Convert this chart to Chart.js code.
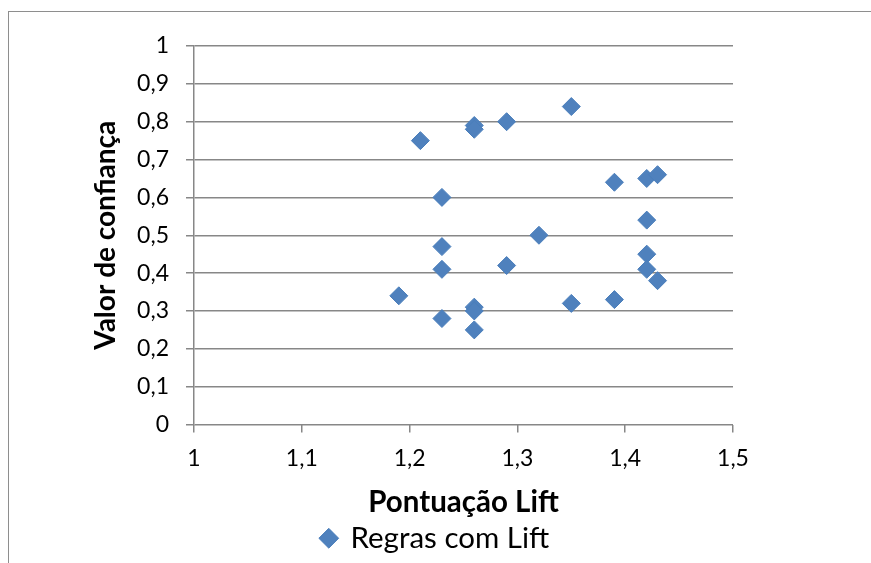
<!DOCTYPE html>
<html>
<head>
<meta charset="utf-8">
<script src="https://cdn.jsdelivr.net/npm/chart.js@4"></script>
<style>
    html, body { margin: 0; padding: 0; background: #fff; overflow: hidden; }
    #wrap { position: relative; width: 871px; height: 563px; }
    #frame { position: absolute; left: 8px; top: 11px; width: 900px; height: 600px;
        border-left: 1.5px solid #8e8e8e; border-top: 1.5px solid #8e8e8e; }
    #chart { position: absolute; left: 0; top: 0; }
</style>
</head>
<body>
<div id="wrap">
    <div id="frame"></div>
    <canvas id="chart" width="871" height="563"></canvas>
</div>
<script>
    const seriesName = 'Regras com Lift';
    const xTitle = 'Pontuação Lift';
    const yTitle = 'Valor de confiança';

    // pontuação lift (x) e confiança (y) de cada regra
    const liftValues = [1.19, 1.21, 1.23, 1.23, 1.23, 1.23, 1.26, 1.26, 1.26, 1.26, 1.26, 1.29,
        1.29, 1.32, 1.35, 1.35, 1.39, 1.39, 1.42, 1.43, 1.42, 1.42, 1.42, 1.43];
    const confValues = [0.34, 0.75, 0.60, 0.47, 0.41, 0.28, 0.79, 0.78, 0.31, 0.30, 0.25, 0.80,
        0.42, 0.50, 0.84, 0.32, 0.64, 0.33, 0.65, 0.66, 0.54, 0.45, 0.41, 0.38];

    const xMin = 1, xMax = 1.5, xStep = 0.1;
    const yMin = 0, yMax = 1, yStep = 0.1;

    const font = 'Lato';
    const gridColor = '#878787';

    let points = [];
    for (let i = 0; i < liftValues.length; i++) {
        points.push({x: liftValues[i], y: confValues[i]});
    }

    const comma = v => String(Math.round(v * 10) / 10).replace('.', ',');

    let ctx = document.getElementById('chart').getContext('2d');
    let myChart = new Chart(ctx, {
        type: 'scatter',
        data: {
            datasets: [{
                label: seriesName,
                data: points,
                pointStyle: 'rectRot',
                pointRadius: 9,
                pointHoverRadius: 9,
                backgroundColor: '#4F81BD',
                borderColor: '#4A7EBB',
                borderWidth: 1,
            }]
        },
        options: {
            responsive: false,
            animation: false,
            layout: {padding: {left: 0, top: 46, right: 0, bottom: 0}},
            plugins: {
                tooltip: {enabled: false},
                legend: {
                    position: 'bottom',
                    labels: {
                        usePointStyle: true,
                        boxWidth: 14,
                        boxHeight: 14,
                        padding: 3,
                        color: '#000',
                        font: {family: font, size: 29.5},
                    }
                }
            },
            scales: {
                x: {
                    type: 'linear',
                    min: xMin,
                    max: xMax,
                    ticks: {
                        stepSize: xStep,
                        callback: comma,
                        color: '#000',
                        padding: 12,
                        font: {family: font, size: 23},
                    },
                    grid: {drawOnChartArea: false, drawTicks: true, tickLength: 8, color: gridColor, lineWidth: 1.5},
                    border: {display: false},
                    title: {
                        display: true,
                        text: xTitle,
                        color: '#000',
                        padding: {top: 6, bottom: 0},
                        font: {family: font, size: 29.5, weight: 'bold'},
                    },
                    afterFit: scale => { scale.height = 96; },
                },
                y: {
                    type: 'linear',
                    min: yMin,
                    max: yMax,
                    ticks: {
                        stepSize: yStep,
                        callback: comma,
                        color: '#000',
                        padding: 17,
                        font: {family: font, size: 23},
                    },
                    grid: {color: gridColor, lineWidth: 1.5, tickLength: 8},
                    border: {color: gridColor, width: 1.5},
                    title: {
                        display: true,
                        text: yTitle,
                        color: '#000',
                        padding: {top: 89, bottom: 0},
                        font: {family: font, size: 28, weight: 'bold'},
                    },
                    afterFit: scale => { scale.width = 194; },
                },
                // empty right axis, only keeps the plot away from the right edge
                yRight: {
                    type: 'linear',
                    position: 'right',
                    min: yMin,
                    max: yMax,
                    ticks: {display: false},
                    grid: {display: false},
                    border: {display: false},
                    afterFit: scale => { scale.width = 138; },
                }
            }
        }
    });
</script>
</body>
</html>
